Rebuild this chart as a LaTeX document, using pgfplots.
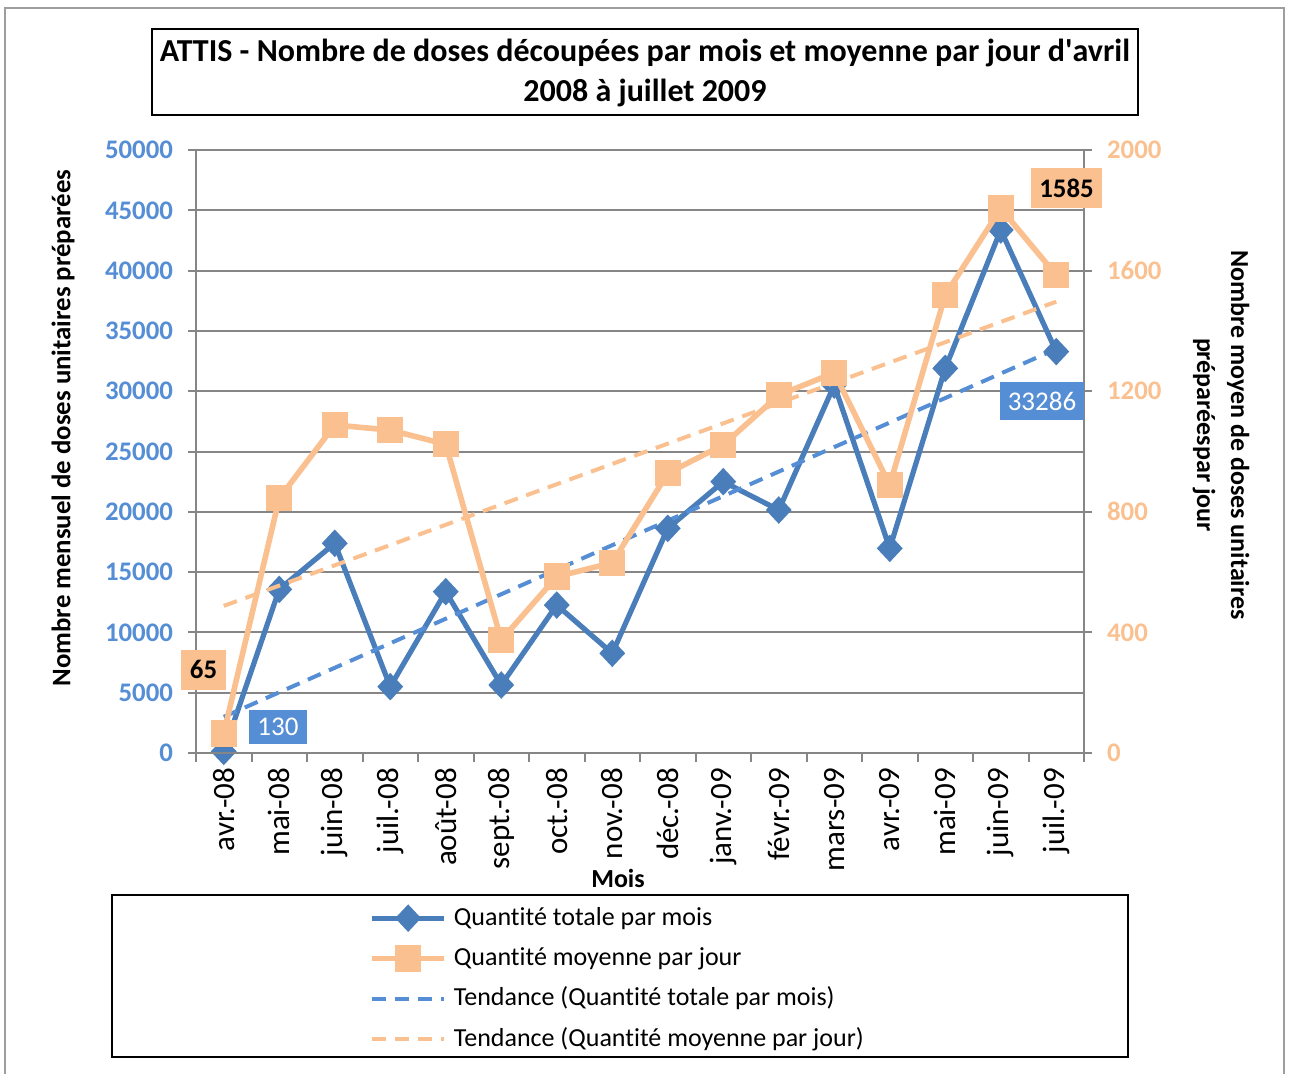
\documentclass[border=0pt]{standalone}
\usepackage{pgfplots}
\pgfplotsset{compat=1.18}
\usepackage{fontspec}
\setmainfont{Carlito}[Ligatures={NoCommon}]
\definecolor{bline}{HTML}{4A7EBB}
\definecolor{blab}{HTML}{558ED5}
\definecolor{oline}{HTML}{FAC090}
\definecolor{gridc}{HTML}{868686}
\begin{document}
\begin{tikzpicture}
\begin{scope}[x=0.5pt,y=-0.5pt]
\path[use as bounding box] (0,0) rectangle (1289,1073);
\draw[gridc!80, line width=1.2pt] (5,1090) -- (5,8) -- (1284,8) -- (1284,1090);
\draw[black, line width=1pt] (152,29) rectangle (1138,115);
\node[align=center, font=\bfseries\fontsize{16}{20}\selectfont] at (645,73) {ATTIS - Nombre de doses découpées par mois et moyenne par jour d\textquotesingle avril\\2008 à juillet 2009};
\node[rotate=90, font=\bfseries\fontsize{13.4}{15}\selectfont] at (63,428) {Nombre mensuel de doses unitaires préparées};
\node[rotate=-90, align=center, font=\bfseries\fontsize{13}{17}\selectfont] at (1221,435) {Nombre moyen de doses unitaires\\préparéespar jour};
\node[font=\bfseries\fontsize{13}{15}\selectfont] at (618,878) {Mois};
\draw[black, line width=1pt] (112,895) rectangle (1128,1057);
\end{scope}

\begin{axis}[
  at={(98pt,-376.5pt)}, anchor=south west,
  scale only axis, width=444pt, height=301.5pt,
  xmin=-0.5, xmax=15.5, ymin=0, ymax=50000,
  xtick={0,...,15},
  xticklabels={avr.-08,mai-08,juin-08,juil.-08,août-08,sept.-08,oct.-08,nov.-08,déc.-08,janv.-09,févr.-09,mars-09,avr.-09,mai-09,juin-09,juil.-09},
  minor xtick={-0.5,0.5,...,15.5},
  major x tick style={draw=none},
  xtick pos=left, ytick pos=left,
  x tick label style={rotate=90, anchor=east, font=\fontsize{15.5}{17}\selectfont},
  ytick={0,5000,...,50000},
  ymajorgrids, grid style={gridc, line width=1pt},
  y tick label style={font=\bfseries\fontsize{13.4}{15}\selectfont, text=blab, xshift=-4pt},
  scaled y ticks=false,
  yticklabel style={/pgf/number format/1000 sep={}, /pgf/number format/assume math mode=true},
  tick align=outside, major tick length=4pt, minor tick length=4.5pt,
  tick style={gridc, line width=1pt},
  axis line style={gridc, line width=1pt},
  clip=false,
]
\addplot[bline, line width=2.6pt, mark=diamond*, mark size=5pt, mark options={solid, xscale=1.25}] coordinates {
(0,130) (1,13570) (2,17390) (3,5500) (4,13380) (5,5640) (6,12270) (7,8270)
(8,18630) (9,22500) (10,20150) (11,30510) (12,16970) (13,31900) (14,43370) (15,33286)};
\addplot[blab, line width=2pt, dash pattern=on 7pt off 4.5pt] coordinates {(0,3000) (15,33500)};
\end{axis}

\begin{axis}[
  at={(98pt,-376.5pt)}, anchor=south west,
  scale only axis, width=444pt, height=301.5pt,
  xmin=-0.5, xmax=15.5, ymin=0, ymax=2000,
  xtick=\empty,
  ytick={0,400,...,2000},
  ytick pos=right, yticklabel pos=right,
  y tick label style={font=\bfseries\fontsize{13.4}{15}\selectfont, text=oline, xshift=4pt},
  yticklabel style={/pgf/number format/1000 sep={}, /pgf/number format/assume math mode=true},
  tick align=outside, major tick length=4pt,
  tick style={gridc, line width=1pt},
  axis line style={gridc, line width=1pt},
  clip=false,
  legend cell align=left,
  legend style={at={(0.188,-0.245)}, anchor=north west, draw=none, fill=none,
    font=\fontsize{13}{15}\selectfont, row sep=7.2pt, column sep=3.5pt,
    nodes={inner sep=0pt, text height=10pt, text depth=3pt}},
  legend image code/.code={\draw[mark repeat=2,mark phase=2,#1] plot coordinates {(0pt,0pt) (18pt,0pt) (36pt,0pt)};},
]
\addlegendimage{bline, line width=2.6pt, mark=diamond*, mark size=5pt, mark options={solid, xscale=1.25}}
\addlegendentry{Quantité totale par mois}
\addplot[oline, line width=2.8pt, mark=square*, mark size=5.2pt, mark options={solid}] coordinates {
(0,65) (1,845) (2,1088) (3,1071) (4,1024) (5,375) (6,585) (7,631)
(8,928) (9,1022) (10,1187) (11,1261) (12,889) (13,1519) (14,1806) (15,1585)};
\addlegendentry{Quantité moyenne par jour}
\addlegendimage{blab, line width=2pt, dash pattern=on 7pt off 4.5pt}
\addlegendentry{Tendance (Quantité totale par mois)}
\addplot[oline, line width=2pt, dash pattern=on 7pt off 4.5pt] coordinates {(0,488) (15,1497)};
\addlegendentry{Tendance (Quantité moyenne par jour)}
\end{axis}

\begin{scope}[x=0.5pt,y=-0.5pt]
\node[fill=blab, text=white, font=\fontsize{13.5}{15}\selectfont, minimum width=29pt, minimum height=17pt, inner sep=0pt] at (278,727) {130};
\node[fill=blab, text=white, font=\fontsize{13.5}{15}\selectfont, minimum width=42pt, minimum height=19pt, inner sep=0pt] at (1042,401) {33286};
\node[fill=oline, text=black, font=\bfseries\fontsize{13.4}{15}\selectfont, minimum width=22.5pt, minimum height=20pt, inner sep=0pt] at (203.5,669.5) {65};
\node[fill=oline, text=black, font=\bfseries\fontsize{13.4}{15}\selectfont, minimum width=35.5pt, minimum height=20pt, inner sep=0pt] at (1066.5,188) {1585};
\end{scope}
\end{tikzpicture}
\end{document}
